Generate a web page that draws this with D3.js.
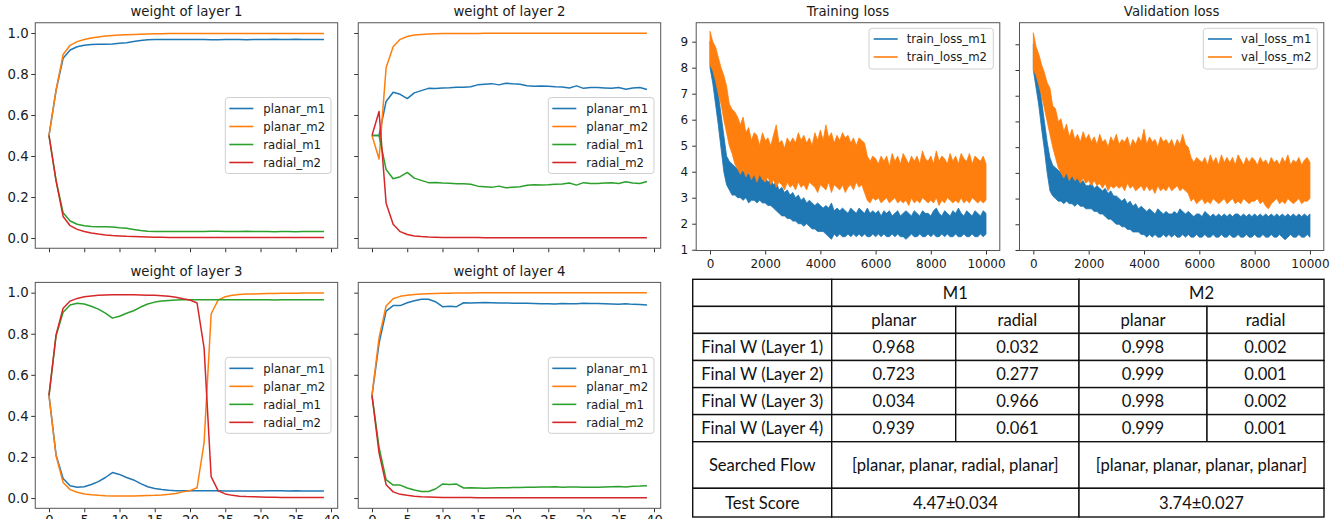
<!DOCTYPE html>
<html><head><meta charset="utf-8">
<script src="https://cdn.jsdelivr.net/npm/d3@7"></script>
<style>body{margin:0;background:#fff}svg{display:block}</style>
</head><body>
<svg id="c" width="1333" height="519"></svg>
<script>
// ---------------- DATA ----------------
const epochs = d3.range(40);
const seriesNames = ["planar_m1", "planar_m2", "radial_m1", "radial_m2"];
const seriesColors = ["#1f77b4", "#ff7f0e", "#2ca02c", "#d62728"];
const layerTitles = ["weight of layer 1", "weight of layer 2", "weight of layer 3", "weight of layer 4"];
const weightXTicks = [0, 5, 10, 15, 20, 25, 30, 35, 40];
const weightYTicks = [0, 0.2, 0.4, 0.6, 0.8, 1.0];

const L1_planar_m1 = [0.5,0.72,0.877,0.917,0.933,0.94,0.944,0.945,0.945,0.946,0.95,0.953,0.958,0.963,0.967,0.968,0.968,0.968,0.968,0.968,0.968,0.968,0.968,0.967,0.967,0.968,0.968,0.968,0.967,0.968,0.968,0.968,0.969,0.968,0.968,0.969,0.968,0.968,0.968,0.968];
const L1_planar_m2 = [0.5,0.72,0.895,0.94,0.958,0.968,0.976,0.981,0.985,0.988,0.99,0.992,0.993,0.994,0.995,0.996,0.996,0.997,0.997,0.997,0.998,0.998,0.998,0.998,0.998,0.998,0.998,0.998,0.998,0.998,0.998,0.998,0.998,0.998,0.998,0.998,0.998,0.998,0.998,0.998];
const L1_radial_m1 = [0.5,0.28,0.123,0.083,0.067,0.06,0.056,0.055,0.055,0.054,0.05,0.047,0.042,0.037,0.033,0.032,0.032,0.032,0.032,0.032,0.032,0.032,0.032,0.033,0.033,0.032,0.032,0.032,0.033,0.032,0.032,0.032,0.031,0.032,0.032,0.031,0.032,0.032,0.032,0.032];
const L1_radial_m2 = [0.5,0.28,0.105,0.06,0.042,0.032,0.024,0.019,0.015,0.012,0.01,0.008,0.007,0.006,0.005,0.004,0.004,0.003,0.003,0.003,0.002,0.002,0.002,0.002,0.002,0.002,0.002,0.002,0.002,0.002,0.002,0.002,0.002,0.002,0.002,0.002,0.002,0.002,0.002,0.002];

const L2_planar_m1 = [0.5,0.5,0.666,0.711,0.701,0.68,0.708,0.719,0.73,0.729,0.732,0.733,0.735,0.735,0.738,0.747,0.75,0.753,0.747,0.755,0.752,0.75,0.743,0.74,0.741,0.74,0.738,0.737,0.732,0.742,0.73,0.734,0.734,0.732,0.73,0.734,0.726,0.732,0.734,0.724];
const L2_planar_m2 = [0.5,0.385,0.83,0.933,0.969,0.983,0.99,0.993,0.995,0.996,0.997,0.997,0.998,0.998,0.998,0.998,0.999,0.999,0.999,0.999,0.999,0.999,0.999,0.999,0.999,0.999,0.999,0.999,0.999,0.999,0.999,0.999,0.999,0.999,0.999,0.999,0.999,0.999,0.999,0.999];
const L2_radial_m1 = [0.5,0.5,0.334,0.289,0.299,0.32,0.292,0.281,0.27,0.271,0.268,0.267,0.265,0.265,0.262,0.253,0.25,0.247,0.253,0.245,0.248,0.25,0.257,0.26,0.259,0.26,0.262,0.263,0.268,0.258,0.27,0.266,0.266,0.268,0.27,0.266,0.274,0.268,0.266,0.276];
const L2_radial_m2 = [0.5,0.617,0.17,0.067,0.031,0.017,0.01,0.007,0.005,0.004,0.003,0.003,0.002,0.002,0.002,0.002,0.001,0.001,0.001,0.001,0.001,0.001,0.001,0.001,0.001,0.001,0.001,0.001,0.001,0.001,0.001,0.001,0.001,0.001,0.001,0.001,0.001,0.001,0.001,0.001];

const L3_planar_m1 = [0.5,0.21,0.095,0.06,0.052,0.055,0.066,0.08,0.1,0.124,0.115,0.1,0.088,0.07,0.055,0.046,0.041,0.038,0.036,0.035,0.035,0.035,0.035,0.035,0.035,0.034,0.034,0.034,0.034,0.034,0.034,0.035,0.036,0.035,0.034,0.035,0.034,0.034,0.034,0.034];
const L3_planar_m2 = [0.5,0.206,0.076,0.041,0.028,0.02,0.016,0.013,0.011,0.01,0.01,0.01,0.01,0.011,0.012,0.013,0.015,0.018,0.022,0.03,0.036,0.05,0.27,0.896,0.965,0.98,0.987,0.991,0.993,0.994,0.995,0.996,0.996,0.997,0.997,0.997,0.998,0.998,0.998,0.998];
const L3_radial_m1 = [0.5,0.79,0.905,0.94,0.948,0.945,0.934,0.92,0.9,0.876,0.885,0.9,0.912,0.93,0.945,0.954,0.959,0.962,0.964,0.965,0.965,0.965,0.965,0.965,0.965,0.966,0.966,0.966,0.966,0.966,0.966,0.965,0.964,0.965,0.966,0.965,0.966,0.966,0.966,0.966];
const L3_radial_m2 = [0.5,0.794,0.924,0.959,0.972,0.98,0.984,0.987,0.989,0.99,0.99,0.99,0.99,0.989,0.988,0.987,0.985,0.982,0.978,0.97,0.964,0.95,0.73,0.104,0.035,0.02,0.013,0.009,0.007,0.006,0.005,0.004,0.004,0.003,0.003,0.003,0.002,0.002,0.002,0.002];

const L4_planar_m1 = [0.5,0.753,0.91,0.937,0.937,0.951,0.961,0.968,0.968,0.956,0.932,0.934,0.932,0.951,0.95,0.951,0.952,0.951,0.95,0.95,0.949,0.949,0.948,0.947,0.946,0.946,0.945,0.947,0.946,0.946,0.948,0.947,0.947,0.946,0.945,0.944,0.946,0.943,0.942,0.94];
const L4_planar_m2 = [0.5,0.78,0.935,0.97,0.982,0.987,0.991,0.994,0.995,0.996,0.997,0.997,0.998,0.998,0.998,0.999,0.999,0.999,0.999,0.999,0.999,0.999,0.999,0.999,0.999,0.999,0.999,0.999,0.999,0.999,0.999,0.999,0.999,0.999,0.999,0.999,0.999,0.999,0.999,0.999];
const L4_radial_m1 = [0.5,0.247,0.09,0.063,0.063,0.049,0.039,0.032,0.032,0.044,0.068,0.066,0.068,0.049,0.05,0.049,0.048,0.049,0.05,0.05,0.051,0.051,0.052,0.053,0.054,0.054,0.055,0.053,0.054,0.054,0.052,0.053,0.053,0.054,0.055,0.056,0.054,0.057,0.058,0.06];
const L4_radial_m2 = [0.5,0.22,0.065,0.03,0.018,0.013,0.009,0.006,0.005,0.004,0.003,0.003,0.002,0.002,0.002,0.001,0.001,0.001,0.001,0.001,0.001,0.001,0.001,0.001,0.001,0.001,0.001,0.001,0.001,0.001,0.001,0.001,0.001,0.001,0.001,0.001,0.001,0.001,0.001,0.001];

const layerSeries = [
  [L1_planar_m1, L1_planar_m2, L1_radial_m1, L1_radial_m2],
  [L2_planar_m1, L2_planar_m2, L2_radial_m1, L2_radial_m2],
  [L3_planar_m1, L3_planar_m2, L3_radial_m1, L3_radial_m2],
  [L4_planar_m1, L4_planar_m2, L4_radial_m1, L4_radial_m2]
];

// loss curves: per-100-step envelope (min / max of the noisy trace), steps 0..10000
const lossSteps = d3.range(0, 10001, 100);
const lossXTicks = [0, 2000, 4000, 6000, 8000, 10000];
const lossYTicks = [1, 2, 3, 4, 5, 6, 7, 8, 9];
const train_m1_hi = [9.0,8.4,7.8,7.0,6.2,5.4,4.6,4.4,4.3,4.2,4.1, 4.2,4.0,4.1,3.9,4.0,3.9,3.8,3.9,3.7,3.8, 3.6,3.7,3.5,3.6,3.3,3.4,3.2,3.3,3.1,3.2, 3.0,3.1,2.9,3.0,2.8,2.9,2.8,2.7,2.8,2.7, 2.6,2.7,2.6,2.8,2.5,2.6,2.5,2.6,2.5,2.4, 2.6,2.5,2.4,2.6,2.5,2.4,2.6,2.4,2.5,2.4, 2.5,2.3,2.5,2.4,2.5,2.3,2.4,2.5,2.3,2.4, 2.5,2.4,2.3,2.5,2.4,2.3,2.5,2.4,2.4,2.3, 2.5,2.6,2.4,2.3,2.5,2.4,2.3,2.5,2.4,2.6, 2.4,2.3,2.5,2.4,2.3,2.5,2.4,2.3,2.5,2.4];
const train_m1_lo = [8.0,7.4,6.6,5.8,4.9,4.0,3.5,3.3,3.1,3.1,3.0, 3.0,2.9,3.0,2.8,2.9,2.9,2.8,2.9,2.8,2.8, 2.7,2.7,2.6,2.5,2.4,2.3,2.3,2.2,2.2,2.1, 2.1,2.0,2.0,1.9,2.0,1.9,1.8,1.8,1.7,1.7, 1.7,1.6,1.5,1.4,1.6,1.5,1.6,1.5,1.5,1.6, 1.5,1.6,1.5,1.6,1.5,1.6,1.5,1.5,1.6,1.5, 1.6,1.5,1.6,1.5,1.5,1.6,1.5,1.6,1.5,1.5, 1.4,1.5,1.6,1.5,1.5,1.6,1.5,1.5,1.6,1.5, 1.6,1.5,1.5,1.6,1.5,1.6,1.5,1.5,1.6,1.5, 1.5,1.6,1.5,1.5,1.6,1.5,1.5,1.6,1.5,1.6];
const train_m2_hi = [9.4,9.0,8.8,8.4,8.0,7.7,7.3,6.6,6.4,6.3,6.1, 5.8,6.1,5.5,5.7,5.2,5.5,5.4,5.0,5.5,5.2, 5.3,5.0,5.4,5.8,5.1,5.2,4.9,5.3,5.1,5.3, 5.1,5.5,5.2,5.4,5.1,5.3,5.0,5.5,5.2,5.6, 5.2,5.8,5.3,5.5,5.1,5.4,5.2,5.5,5.3,5.4, 5.1,5.3,5.0,5.3,5.2,5.1,4.6,4.4,4.6,4.5, 4.3,4.6,4.4,4.6,4.2,4.7,4.4,4.6,4.3,4.7, 4.5,4.3,4.6,4.4,4.6,4.3,4.8,4.5,4.4,4.6, 4.3,4.8,4.4,4.6,4.5,4.3,4.7,4.4,4.6,4.3, 4.7,4.5,4.4,4.7,4.3,4.6,4.5,4.4,4.6,4.3];
const train_m2_lo = [8.1,7.9,7.5,7.0,6.6,6.0,5.5,5.0,4.7,4.3,4.1, 3.9,4.1,3.8,4.0,3.7,3.9,3.6,3.9,3.7,3.6, 3.8,3.5,3.7,3.4,3.6,3.5,3.3,3.6,3.4,3.5, 3.3,3.6,3.4,3.5,3.3,3.6,3.5,3.4,3.2,3.5, 3.4,3.3,3.6,3.2,3.5,3.4,3.3,3.5,3.2,3.4, 3.5,3.3,3.6,3.4,3.5,3.2,2.9,2.8,3.0,2.9, 3.0,2.8,2.9,3.0,2.8,2.9,3.0,2.8,2.9,2.8, 2.9,2.7,3.0,2.8,2.9,2.8,3.0,2.9,2.8,2.9, 2.8,3.0,2.7,2.9,2.8,3.0,2.9,2.8,2.9,2.8, 3.0,2.8,2.9,2.8,3.0,2.9,2.8,2.9,2.8,2.9];
const val_m1_hi = [9.0,8.3,7.6,6.8,6.0,5.2,4.6,4.3,4.2,4.1,4.0, 3.9,4.0,3.8,3.9,3.7,3.8,3.6,3.7,3.5,3.5, 3.6,3.4,3.5,3.4,3.3,3.4,3.2,3.3,3.1,3.1, 3.0,2.9,3.0,2.8,2.9,2.7,2.8,2.6,2.7,2.6, 2.5,2.6,2.5,2.4,2.6,2.5,2.4,2.5,2.4,2.4, 2.5,2.4,2.6,2.5,2.4,2.5,2.4,2.3,2.4,2.4, 2.3,2.5,2.4,2.3,2.4,2.3,2.4,2.3,2.4,2.3, 2.4,2.3,2.4,2.4,2.3,2.4,2.3,2.4,2.3,2.4, 2.3,2.4,2.3,2.4,2.3,2.4,2.3,2.4,2.3,2.4, 2.3,2.4,2.3,2.4,2.3,2.4,2.3,2.4,2.3,2.4];
const val_m1_lo = [8.0,7.3,6.6,5.7,4.9,4.0,3.3,3.1,3.0,2.9,2.9, 2.8,2.9,2.8,2.8,2.7,2.8,2.7,2.7,2.6,2.6, 2.6,2.5,2.5,2.4,2.4,2.3,2.2,2.2,2.1,2.0, 2.0,1.9,1.9,1.8,1.8,1.7,1.7,1.7,1.6,1.6, 1.5,1.6,1.5,1.6,1.5,1.5,1.6,1.5,1.6,1.5, 1.6,1.5,1.5,1.6,1.5,1.6,1.5,1.5,1.6,1.5, 1.5,1.6,1.5,1.5,1.6,1.5,1.5,1.6,1.5,1.5, 1.6,1.5,1.5,1.6,1.5,1.5,1.6,1.5,1.5,1.6, 1.5,1.5,1.6,1.5,1.5,1.6,1.5,1.5,1.6,1.5, 1.4,1.5,1.6,1.5,1.5,1.6,1.5,1.5,1.6,1.5];
const val_m2_hi = [9.45,8.9,8.6,8.2,7.9,7.5,7.3,6.6,6.5,6.0,6.1, 5.6,5.9,5.4,5.7,5.3,5.5,5.2,5.6,5.3,5.5, 5.2,5.4,5.1,5.5,5.2,5.3,5.0,5.4,5.2,5.5, 5.1,5.3,5.2,5.4,5.0,5.3,5.1,5.4,5.2,5.7, 5.1,5.4,5.2,5.3,5.0,5.4,5.2,5.3,5.1,5.3, 5.0,5.3,5.1,5.5,5.1,5.0,4.6,4.4,4.6,4.5, 4.4,4.6,4.3,4.7,4.4,4.6,4.3,4.7,4.4,4.6, 4.4,4.6,4.3,4.7,4.5,4.3,4.6,4.4,4.6,4.5, 4.3,4.6,4.4,4.5,4.3,4.6,4.4,4.5,4.3,4.6, 4.4,4.7,4.3,4.5,4.4,4.6,4.3,4.5,4.6,4.4];
const val_m2_lo = [8.0,7.8,7.4,7.0,6.5,6.0,5.5,5.0,4.6,4.2,4.0, 3.8,4.0,3.7,3.9,3.7,3.8,3.6,3.8,3.6,3.7, 3.5,3.7,3.5,3.6,3.4,3.6,3.3,3.5,3.4,3.5, 3.4,3.5,3.3,3.6,3.4,3.5,3.3,3.4,3.5,3.3, 3.5,3.3,3.4,3.2,3.5,3.3,3.4,3.3,3.5,3.3, 3.4,3.5,3.3,3.4,3.3,3.2,2.9,3.0,2.8,2.9, 3.0,2.8,2.9,2.8,3.0,2.9,2.8,2.9,3.0,2.8, 2.9,3.0,2.8,2.9,2.8,3.0,2.9,2.8,2.9,2.9, 3.0,2.8,2.9,2.7,2.6,2.8,2.9,3.0,2.8,2.9, 2.8,3.0,2.9,2.8,2.9,3.0,2.8,2.9,2.9,3.0];

// table
const tableModels = ["M1", "M2"];
const tableOps = ["planar", "radial", "planar", "radial"];
const tableRowLabels = ["Final W (Layer 1)", "Final W (Layer 2)", "Final W (Layer 3)", "Final W (Layer 4)"];
const finalW_m1_planar = ["0.968", "0.723", "0.034", "0.939"];
const finalW_m1_radial = ["0.032", "0.277", "0.966", "0.061"];
const finalW_m2_planar = ["0.998", "0.999", "0.998", "0.999"];
const finalW_m2_radial = ["0.002", "0.001", "0.002", "0.001"];
const searchedFlow = ["[planar, planar, radial, planar]", "[planar, planar, planar, planar]"];
const testScore = ["4.47\u00B10.034", "3.74\u00B10.027"];

// ---------------- DRAWING ----------------
const FONT = "'DejaVu Sans', sans-serif";
const svg = d3.select("#c");
svg.append("rect").attr("width", 1333).attr("height", 519).attr("fill", "#fff");

function styleAxis(g, fs) {
  g.select(".domain").remove();
  g.selectAll(".tick line").attr("stroke", "#333").attr("stroke-width", 1);
  g.selectAll(".tick text").attr("fill", "#1a1a1a").style("font-family", FONT).style("font-size", fs + "px");
}

function legend(g, x, y, w, h, names, colors, fs, row0, dy, lineX0, lineX1, textX) {
  const lg = g.append("g").attr("transform", `translate(${x},${y})`);
  lg.append("rect").attr("width", w).attr("height", h).attr("rx", 3)
    .attr("fill", "#fff").attr("fill-opacity", 0.8).attr("stroke", "#d0d0d0").attr("stroke-width", 1);
  names.forEach((n, i) => {
    const yy = row0 + i * dy;
    lg.append("line").attr("x1", lineX0).attr("x2", lineX1).attr("y1", yy).attr("y2", yy)
      .attr("stroke", colors[i]).attr("stroke-width", 1.6);
    lg.append("text").attr("x", textX).attr("y", yy + fs * 0.36).text(n)
      .style("font-family", FONT).style("font-size", fs + "px").attr("fill", "#1a1a1a");
  });
}

const weightBoxes = [
  {l: 35.25, r: 337.7, t: 22.75, b: 248.25, sx: false, sy: true},
  {l: 358.25, r: 660.7, t: 22.75, b: 248.25, sx: false, sy: false},
  {l: 35.25, r: 337.7, t: 282.4, b: 508.3, sx: true, sy: true},
  {l: 358.25, r: 660.7, t: 282.4, b: 508.3, sx: true, sy: false}
];

weightBoxes.forEach((bx, k) => {
  const g = svg.append("g");
  const x = d3.scaleLinear().domain([-1.95, 40.95]).range([bx.l, bx.r]);
  const y = d3.scaleLinear().domain([-0.05, 1.05]).range([bx.b, bx.t]);
  const ax = g.append("g").attr("transform", `translate(0,${bx.b})`)
    .call(d3.axisBottom(x).tickValues(weightXTicks).tickSize(4).tickPadding(3)
      .tickFormat(bx.sx ? d3.format("d") : () => ""));
  styleAxis(ax, 13.3);
  const ay = g.append("g").attr("transform", `translate(${bx.l},0)`)
    .call(d3.axisLeft(y).tickValues(weightYTicks).tickSize(4).tickPadding(2.5)
      .tickFormat(bx.sy ? d3.format(".1f") : () => ""));
  styleAxis(ay, 13.3);
  const line = d3.line().x((d, i) => x(epochs[i])).y(d => y(d));
  layerSeries[k].forEach((s, i) => {
    g.append("path").datum(s).attr("d", line).attr("fill", "none")
      .attr("stroke", seriesColors[i]).attr("stroke-width", 1.5).attr("stroke-linejoin", "round");
  });
  g.append("rect").attr("x", bx.l).attr("y", bx.t).attr("width", bx.r - bx.l).attr("height", bx.b - bx.t)
    .attr("fill", "none").attr("stroke", "#555").attr("stroke-width", 1);
  g.append("text").attr("x", (bx.l + bx.r) / 2).attr("y", bx.t - 6.3).attr("text-anchor", "middle")
    .text(layerTitles[k]).style("font-family", FONT).style("font-size", "13.3px").attr("fill", "#1a1a1a");
  const lw = 105.7, lh = 76;
  legend(g, bx.r - 6.7 - lw, (bx.t + bx.b) / 2 - lh / 2, lw, lh, seriesNames, seriesColors, 11.7, 11, 18, 4, 28, 38);
});

const lossPanels = [
  {l: 696.2, r: 999.8, t: 22.7, b: 250.5, yd: [0.97, 9.73], title: "Training loss", sy: true,
   names: ["train_loss_m1", "train_loss_m2"], bands: [[train_m1_lo, train_m1_hi], [train_m2_lo, train_m2_hi]], lw: 124.3},
  {l: 1019.5, r: 1323.8, t: 22.7, b: 250.5, yd: [0.98, 9.84], title: "Validation loss", sy: false,
   names: ["val_loss_m1", "val_loss_m2"], bands: [[val_m1_lo, val_m1_hi], [val_m2_lo, val_m2_hi]], lw: 114}
];

lossPanels.forEach(p => {
  const g = svg.append("g");
  const x = d3.scaleLinear().domain([-500, 10500]).range([p.l, p.r]);
  const y = d3.scaleLinear().domain(p.yd).range([p.b, p.t]);
  const ax = g.append("g").attr("transform", `translate(0,${p.b})`)
    .call(d3.axisBottom(x).tickValues(lossXTicks).tickSize(4).tickPadding(5).tickFormat(d3.format("d")));
  styleAxis(ax, 12);
  const ay = g.append("g").attr("transform", `translate(${p.l},0)`)
    .call(d3.axisLeft(y).tickValues(lossYTicks).tickSize(4).tickPadding(4)
      .tickFormat(p.sy ? d3.format("d") : () => ""));
  styleAxis(ay, 12);
  const clipId = "clip" + p.l.toFixed(0);
  svg.append("clipPath").attr("id", clipId).append("rect")
    .attr("x", p.l).attr("y", p.t).attr("width", p.r - p.l).attr("height", p.b - p.t);
  const area = d3.area().x((d, i) => x(lossSteps[i])).y0(d => y(d[0])).y1(d => y(d[1]));
  p.bands.forEach((bd, i) => {
    const pts = bd[0].map((v, j) => [v, bd[1][j]]);
    g.append("path").datum(pts).attr("d", area).attr("fill", seriesColors[i])
      .attr("stroke", seriesColors[i]).attr("stroke-width", 0.8).attr("clip-path", `url(#${clipId})`);
  });
  g.append("rect").attr("x", p.l).attr("y", p.t).attr("width", p.r - p.l).attr("height", p.b - p.t)
    .attr("fill", "none").attr("stroke", "#555").attr("stroke-width", 1);
  g.append("text").attr("x", (p.l + p.r) / 2).attr("y", p.t - 6.5).attr("text-anchor", "middle")
    .text(p.title).style("font-family", FONT).style("font-size", "13.3px").attr("fill", "#1a1a1a");
  legend(g, p.r - 6.5 - p.lw, 28.3, p.lw, 40.7, p.names, seriesColors.slice(0, 2), 11.7, 10.7, 18, 4.7, 28.7, 37.7);
});

// table
const colX = [692.7, 831.7, 955.7, 1079, 1207, 1324];
const rowY = [279.3, 306.4, 333.4, 360.5, 387.6, 414.6, 441.7, 488.3, 517];
const cells = [];
cells.push({r: 0, c0: 0, c1: 1, t: ""});
tableModels.forEach((m, i) => cells.push({r: 0, c0: 1 + 2 * i, c1: 3 + 2 * i, t: m}));
cells.push({r: 1, c0: 0, c1: 1, t: ""});
tableOps.forEach((o, i) => cells.push({r: 1, c0: 1 + i, c1: 2 + i, t: o}));
tableRowLabels.forEach((lab, i) => {
  const vals = [finalW_m1_planar[i], finalW_m1_radial[i], finalW_m2_planar[i], finalW_m2_radial[i]];
  cells.push({r: 2 + i, c0: 0, c1: 1, t: lab});
  vals.forEach((v, j) => cells.push({r: 2 + i, c0: 1 + j, c1: 2 + j, t: v}));
});
cells.push({r: 6, c0: 0, c1: 1, t: "Searched Flow"});
searchedFlow.forEach((f, i) => cells.push({r: 6, c0: 1 + 2 * i, c1: 3 + 2 * i, t: f}));
cells.push({r: 7, c0: 0, c1: 1, t: "Test Score"});
testScore.forEach((s, i) => cells.push({r: 7, c0: 1 + 2 * i, c1: 3 + 2 * i, t: s}));

const tg = svg.append("g");
const TFS = 16.6;
cells.forEach(c => {
  const x0 = colX[c.c0], x1 = colX[c.c1], y0 = rowY[c.r], y1 = rowY[c.r + 1];
  tg.append("rect").attr("x", x0).attr("y", y0).attr("width", x1 - x0).attr("height", y1 - y0)
    .attr("fill", "#fff").attr("stroke", "#111").attr("stroke-width", 1.4);
});
cells.forEach(c => {
  const x0 = colX[c.c0], x1 = colX[c.c1], y0 = rowY[c.r], y1 = rowY[c.r + 1];
  tg.append("text").attr("x", (x0 + x1) / 2).attr("y", (y0 + y1) / 2 + TFS * 0.36)
    .attr("text-anchor", "middle").text(c.t)
    .style("font-family", "Lato, 'Open Sans', sans-serif").style("font-size", TFS + "px").attr("fill", "#111");
});
</script>
</body></html>
